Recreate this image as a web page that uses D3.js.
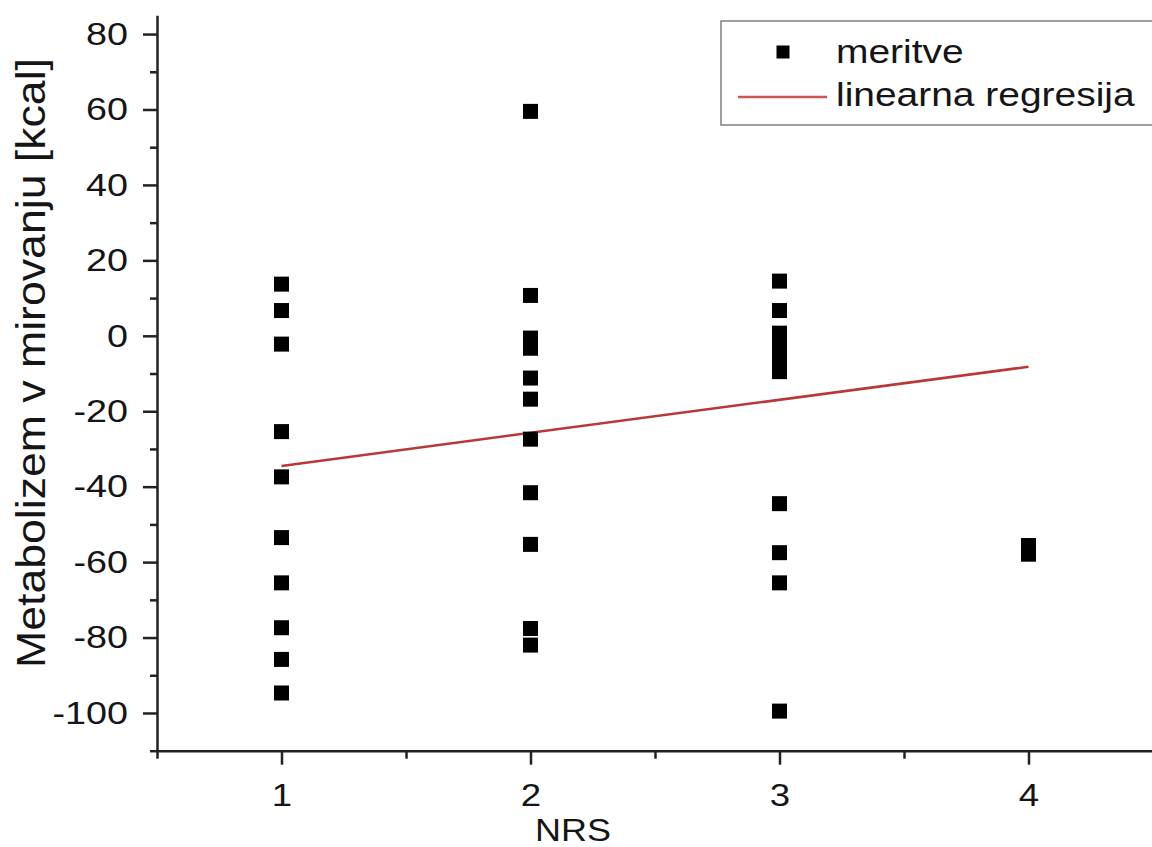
<!DOCTYPE html>
<html>
<head>
<meta charset="utf-8">
<script src="https://cdn.jsdelivr.net/npm/d3@7"></script>
<style>
  html, body { margin: 0; padding: 0; background: #fff; }
  svg { display: block; }
  text { font-family: "Liberation Sans", Arial, sans-serif; fill: #151515; }
</style>
</head>
<body>
<svg id="chart" width="1152" height="847"></svg>
<script>
// ---- data ----
const nrs1 = [13.7, 6.7, -2.2, -25.4, -37.4, -53.5, -65.5, -77.4, -85.8, -94.7];
const nrs2 = [59.5, 10.7, -0.6, -3.3, -11.2, -16.8, -27.4, -41.6, -55.3, -77.6, -82.0];
const nrs3 = [14.5, 6.7, 0.7, -3.0, -6.5, -9.5, -44.5, -57.5, -65.5, -99.5];
const nrs4 = [-55.6, -57.9];
const nrsLevels = [1, 2, 3, 4];
const regressionX = [1, 4];
const regressionY = [-34.5, -8.2];
const yMajorTicks = [-100, -80, -60, -40, -20, 0, 20, 40, 60, 80];
const yMinorTicks = [-110, -90, -70, -50, -30, -10, 10, 30, 50, 70];
const xMajorTicks = [1, 2, 3, 4];
const xMinorTicks = [0.5, 1.5, 2.5, 3.5, 4.5];
const yTitle = "Metabolizem v mirovanju [kcal]";
const xTitle = "NRS";
const legendLabels = ["meritve", "linearna regresija"];

const points = [];
[nrs1, nrs2, nrs3, nrs4].forEach((arr, i) => arr.forEach(v => points.push({x: nrsLevels[i], y: v})));

// ---- layout ----
const svg = d3.select("#chart");
const sx = 1.18; // horizontal text stretch seen in the reference
const x = d3.scaleLinear().domain([0.5, 4.5]).range([157, 1153]);
const y = d3.scaleLinear().domain([-110, 85]).range([750.7, 15.2]);
const axisColor = "#222";
const fmt = d => String(d);

// regression line
svg.append("path")
  .datum(regressionX.map((d, i) => [d, regressionY[i]]))
  .attr("fill", "none")
  .attr("stroke", "#b8383a")
  .attr("stroke-width", 2.5)
  .attr("d", d3.line().x(d => x(d[0])).y(d => y(d[1])));

// points
const ms = 15;
svg.append("g").selectAll("rect").data(points).join("rect")
  .attr("x", d => x(d.x) - ms / 2)
  .attr("y", d => y(d.y) - ms / 2)
  .attr("width", ms).attr("height", ms)
  .attr("fill", "#000");

// y axis
const yAxisG = svg.append("g").attr("transform", `translate(${x(0.5)},0)`);
yAxisG.call(d3.axisLeft(y).tickValues(yMajorTicks).tickSize(14).tickSizeOuter(0).tickFormat(fmt));
yAxisG.append("g").call(d3.axisLeft(y).tickValues(yMinorTicks).tickSize(7).tickSizeOuter(0).tickFormat(""))
  .select(".domain").remove();
yAxisG.selectAll("path, line").attr("stroke", axisColor).attr("stroke-width", 2.5);
yAxisG.selectAll(".tick text")
  .attr("x", null)
  .attr("font-size", 32)
  .attr("font-family", '"Liberation Sans", Arial, sans-serif')
  .attr("fill", "#151515")
  .attr("text-anchor", "end")
  .attr("transform", `translate(-29,0) scale(${sx},1)`);

// x axis
const xAxisG = svg.append("g").attr("transform", `translate(0,${y(-110)})`);
xAxisG.call(d3.axisBottom(x).tickValues(xMajorTicks).tickSize(14).tickSizeOuter(0).tickFormat(fmt));
xAxisG.append("g").call(d3.axisBottom(x).tickValues(xMinorTicks).tickSize(8).tickSizeOuter(0).tickFormat(""))
  .select(".domain").remove();
xAxisG.selectAll("path, line").attr("stroke", axisColor).attr("stroke-width", 2.5);
xAxisG.selectAll(".tick text")
  .attr("y", null)
  .attr("dy", null)
  .attr("font-size", 31)
  .attr("font-family", '"Liberation Sans", Arial, sans-serif')
  .attr("fill", "#151515")
  .attr("transform", `translate(0,55) scale(${sx},1)`);

// axis titles
svg.append("text")
  .attr("transform", `translate(573,841) scale(1.16,1)`)
  .attr("text-anchor", "middle")
  .attr("font-size", 31)
  .text(xTitle);

svg.append("text")
  .attr("transform", "translate(45,363) rotate(-90)")
  .attr("text-anchor", "middle")
  .attr("font-size", 40)
  .attr("textLength", 610)
  .attr("lengthAdjust", "spacingAndGlyphs")
  .text(yTitle);

// legend
const lg = svg.append("g");
lg.append("rect")
  .attr("x", 721).attr("y", 21).attr("width", 460).attr("height", 104)
  .attr("fill", "#fff").attr("stroke", "#808080").attr("stroke-width", 1.5);
lg.append("rect")
  .attr("x", 783 - 6.5).attr("y", 52 - 6.5).attr("width", 13).attr("height", 13)
  .attr("fill", "#000");
lg.append("line")
  .attr("x1", 738).attr("x2", 827).attr("y1", 97).attr("y2", 97)
  .attr("stroke", "#cc5555").attr("stroke-width", 2.5);
lg.selectAll("text.lab").data(legendLabels).join("text")
  .attr("class", "lab")
  .attr("transform", (d, i) => `translate(836,${[63, 106][i]}) scale(${sx},1)`)
  .attr("font-size", 33)
  .text(d => d);
</script>
</body>
</html>
